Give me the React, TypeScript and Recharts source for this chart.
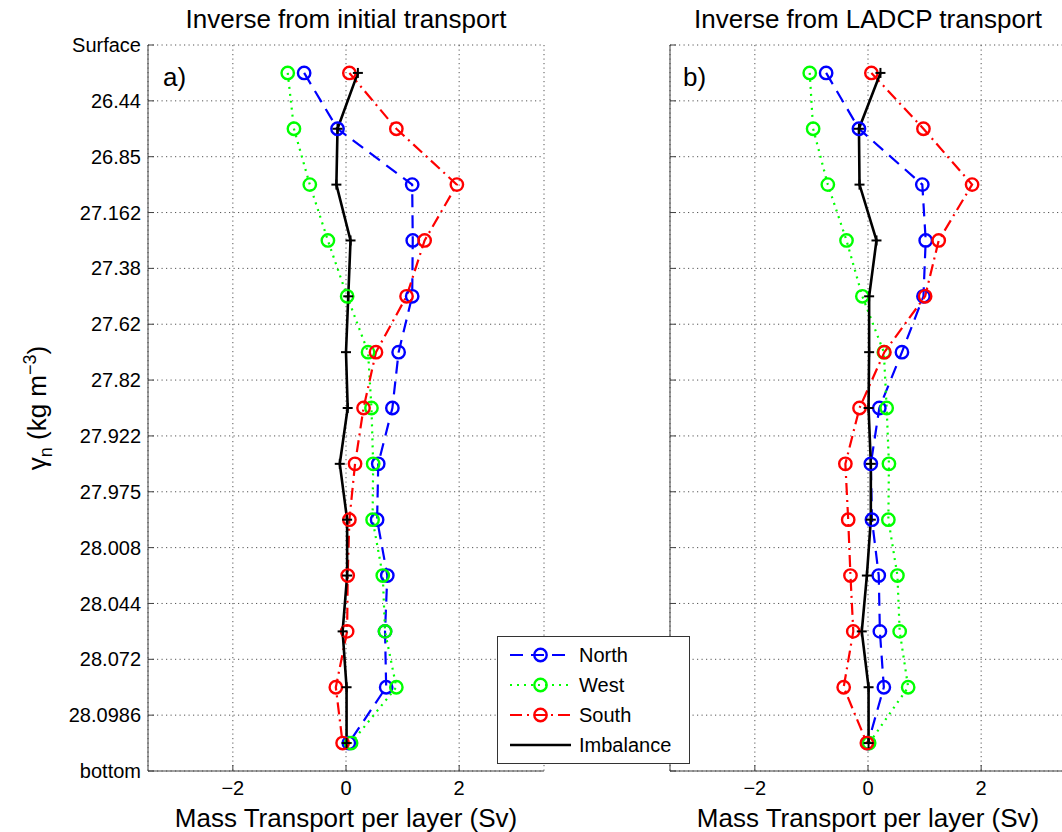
import React from 'react';
import { LineChart, Line, XAxis, YAxis, CartesianGrid } from 'recharts';

// Neutral-density surfaces bounding the layers (top to bottom)
const densityLabels = [
  'Surface', '26.44', '26.85', '27.162', '27.38', '27.62', '27.82',
  '27.922', '27.975', '28.008', '28.044', '28.072', '28.0986', 'bottom',
];
const densityTicks = [0, 1, 2, 3, 4, 5, 6, 7, 8, 9, 10, 11, 12, 13];
// Layer mid-points on the density-index axis
const layerMid = [0.5, 1.5, 2.5, 3.5, 4.5, 5.5, 6.5, 7.5, 8.5, 9.5, 10.5, 11.5, 12.5];
const transportTicks = [-2, 0, 2];

// a) Inverse from initial transport (Sv)
const northInitial = [-0.74, -0.15, 1.17, 1.18, 1.17, 0.93, 0.82, 0.57, 0.55, 0.73, 0.69, 0.71, 0.05];
const westInitial = [-1.03, -0.92, -0.64, -0.32, 0.02, 0.39, 0.45, 0.48, 0.47, 0.65, 0.69, 0.89, 0.09];
const southInitial = [0.06, 0.89, 1.96, 1.39, 1.07, 0.53, 0.31, 0.16, 0.06, 0.03, 0.02, -0.18, -0.06];
const imbalanceInitial = [0.21, -0.15, -0.17, 0.08, 0.04, 0.0, 0.03, -0.11, 0.02, 0.02, -0.06, 0.01, 0.01];

// b) Inverse from LADCP transport (Sv)
const northLadcp = [-0.74, -0.16, 0.96, 1.02, 0.98, 0.6, 0.2, 0.05, 0.07, 0.19, 0.21, 0.28, 0.0];
const westLadcp = [-1.03, -0.97, -0.71, -0.38, -0.1, 0.28, 0.33, 0.37, 0.36, 0.52, 0.56, 0.71, 0.02];
const southLadcp = [0.06, 0.98, 1.84, 1.25, 1.01, 0.29, -0.15, -0.4, -0.35, -0.31, -0.26, -0.43, -0.02];
const imbalanceLadcp = [0.22, -0.16, -0.15, 0.15, 0.02, 0.02, 0.01, 0.05, 0.05, -0.02, -0.11, 0.01, 0.01];

const FONT = '"Liberation Sans", Arial, Helvetica, sans-serif';
const AXIS_COLOR = '#404040';

type SeriesStyle = {
  key: string;
  name: string;
  color: string;
  dash?: string;
  width: number;
  marker: 'ring' | 'plus';
};

const seriesStyles: SeriesStyle[] = [
  { key: 'north', name: 'North', color: '#0000ff', dash: '13 8', width: 2.2, marker: 'ring' },
  { key: 'west', name: 'West', color: '#00ff00', dash: '2 5', width: 2.2, marker: 'ring' },
  { key: 'south', name: 'South', color: '#ff0000', dash: '12 5 2 5', width: 2.2, marker: 'ring' },
  { key: 'imbalance', name: 'Imbalance', color: '#000000', width: 2.6, marker: 'plus' },
];

function buildRows(north: number[], west: number[], south: number[], imbalance: number[]) {
  return layerMid.map((y, i) => ({
    y,
    north: north[i],
    west: west[i],
    south: south[i],
    imbalance: imbalance[i],
  }));
}

const initialRows = buildRows(northInitial, westInitial, southInitial, imbalanceInitial);
const ladcpRows = buildRows(northLadcp, westLadcp, southLadcp, imbalanceLadcp);

const formatTransport = (v: number) => (v < 0 ? `\u2212${Math.abs(v)}` : `${v}`);

function makeDot(style: SeriesStyle) {
  return (props: any) => {
    const { cx, cy, index } = props;
    if (cx == null || cy == null) return <g key={`d-${index}`} />;
    if (style.marker === 'plus') {
      return (
        <g key={`d-${index}`}>
          <line x1={cx - 5} x2={cx + 5} y1={cy} y2={cy} stroke={style.color} strokeWidth={2} />
          <line x1={cx} x2={cx} y1={cy - 5} y2={cy + 5} stroke={style.color} strokeWidth={2} />
        </g>
      );
    }
    return (
      <circle key={`d-${index}`} cx={cx} cy={cy} r={6.2} fill="none" stroke={style.color} strokeWidth={2.4} />
    );
  };
}

function Panel({ rows, showDensityLabels }: { rows: any[]; showDensityLabels: boolean }) {
  return (
    <LineChart
      width={560}
      height={832}
      data={rows}
      layout="vertical"
      margin={{ top: 45, right: 16, bottom: 0, left: 0 }}
    >
      <CartesianGrid stroke="#555" strokeWidth={1} strokeDasharray="1.2 3.3" />
      <XAxis
        type="number"
        domain={[-3.5, 3.5]}
        ticks={transportTicks}
        allowDataOverflow
        height={61}
        stroke={AXIS_COLOR}
        tickSize={-6}
        tickMargin={16}
        tickFormatter={formatTransport}
        tick={{ fill: '#000', fontSize: 20, fontFamily: FONT }}
        label={{
          value: 'Mass Transport per layer (Sv)',
          position: 'insideBottom',
          offset: 5,
          fill: '#000',
          fontSize: 26,
          fontFamily: FONT,
        }}
      />
      <XAxis
        xAxisId="top"
        orientation="top"
        type="number"
        domain={[-3.5, 3.5]}
        ticks={transportTicks}
        allowDataOverflow
        height={0}
        stroke={AXIS_COLOR}
        tickSize={-6}
        tick={false}
      />
      <YAxis
        type="number"
        dataKey="y"
        domain={[0, 13]}
        ticks={densityTicks}
        interval={0}
        allowDataOverflow
        width={148}
        stroke={AXIS_COLOR}
        tickSize={-6}
        tickMargin={13}
        tickFormatter={(v: number) => (showDensityLabels ? densityLabels[v] : '')}
        tick={{ fill: '#000', fontSize: 20, fontFamily: FONT }}
      />
      <YAxis
        yAxisId="right"
        orientation="right"
        type="number"
        domain={[0, 13]}
        ticks={densityTicks}
        interval={0}
        allowDataOverflow
        width={0}
        stroke={AXIS_COLOR}
        tickSize={-6}
        tick={false}
      />
      {seriesStyles.map((s) => (
        <Line
          key={s.key}
          dataKey={s.key}
          name={s.name}
          type="linear"
          stroke={s.color}
          strokeWidth={s.width}
          strokeDasharray={s.dash}
          dot={makeDot(s)}
          activeDot={false}
          isAnimationActive={false}
        />
      ))}
    </LineChart>
  );
}

function LegendBox() {
  const rowY = [19, 49, 79, 109];
  return (
    <svg width={193} height={128} style={{ display: 'block' }}>
      <rect x={0.5} y={0.5} width={192} height={127} fill="#fff" stroke="#333" strokeWidth={1} />
      {seriesStyles.map((s, i) => (
        <g key={s.key}>
          <line
            x1={13}
            x2={74}
            y1={rowY[i]}
            y2={rowY[i]}
            stroke={s.color}
            strokeWidth={s.width}
            strokeDasharray={s.dash}
          />
          {s.marker === 'ring' && (
            <circle cx={43.5} cy={rowY[i]} r={6.2} fill="none" stroke={s.color} strokeWidth={2.4} />
          )}
          <text x={82} y={rowY[i] + 7} fontSize={20} fontFamily={FONT} fill="#000">
            {s.name}
          </text>
        </g>
      ))}
    </svg>
  );
}

export default function App() {
  return (
    <div
      style={{
        position: 'absolute',
        left: 0,
        top: 0,
        width: 1062,
        height: 832,
        overflow: 'hidden',
        background: '#fff',
      }}
    >
      <div style={{ position: 'absolute', left: 0, top: 0 }}>
        <Panel rows={initialRows} showDensityLabels />
      </div>
      <div style={{ position: 'absolute', left: 522, top: 0 }}>
        <Panel rows={ladcpRows} showDensityLabels={false} />
      </div>
      <svg
        width={1062}
        height={832}
        style={{ position: 'absolute', left: 0, top: 0, pointerEvents: 'none' }}
      >
        <text x={346} y={28} textAnchor="middle" fontSize={26} fontFamily={FONT} fill="#000">
          Inverse from initial transport
        </text>
        <text x={868} y={28} textAnchor="middle" fontSize={26} fontFamily={FONT} fill="#000">
          Inverse from LADCP transport
        </text>
        <text x={163} y={86} fontSize={26} fontFamily={FONT} fill="#000">a)</text>
        <text x={683} y={86} fontSize={26} fontFamily={FONT} fill="#000">b)</text>
        <text
          transform="translate(37,408) rotate(-90)"
          textAnchor="middle"
          fontSize={26}
          fontFamily={FONT}
          fill="#000"
        >
          <tspan dy="9">γ</tspan>
          <tspan dy="6" fontSize={18}>n</tspan>
          <tspan dy="-6"> (kg m</tspan>
          <tspan dy="-10" fontSize={18}>−3</tspan>
          <tspan dy="10">)</tspan>
        </text>
      </svg>
      <div style={{ position: 'absolute', left: 497, top: 636, zIndex: 5 }}>
        <LegendBox />
      </div>
    </div>
  );
}
